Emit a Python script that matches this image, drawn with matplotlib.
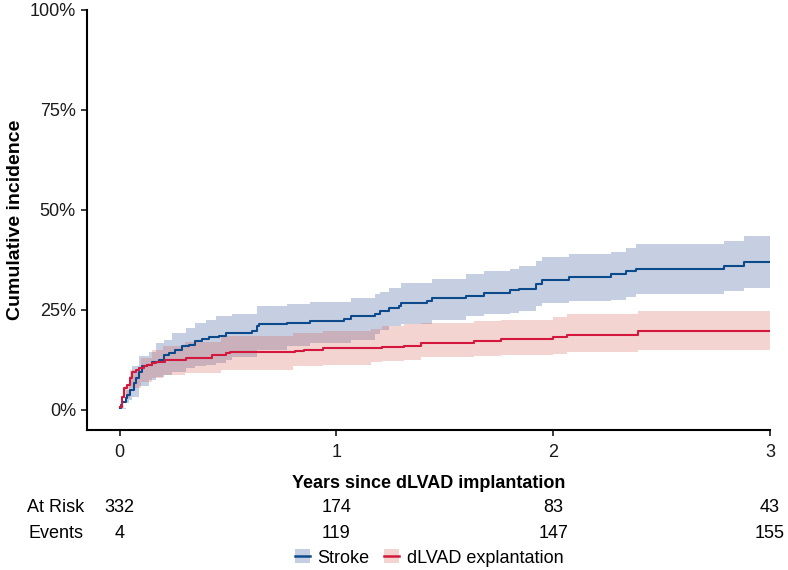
import matplotlib
matplotlib.use('Agg')
import matplotlib.pyplot as plt
import matplotlib.transforms as mtransforms
from matplotlib.patches import Patch
from matplotlib.lines import Line2D
import numpy as np

# --- data (years / percent) ---
stroke_t = [0, 0.005, 0.012, 0.028, 0.035, 0.05, 0.066, 0.074, 0.089, 0.105, 0.128, 0.15, 0.18, 0.205,
            0.228, 0.258, 0.289, 0.32, 0.35, 0.38, 0.412, 0.458, 0.489, 0.61, 0.635, 0.645, 0.774, 0.88,
            1.035, 1.066, 1.18, 1.20, 1.243, 1.29, 1.30, 1.42, 1.443, 1.597, 1.68, 1.80, 1.843, 1.92,
            1.95, 2.074, 2.266, 2.335, 2.381, 2.786, 2.881, 3.0]
stroke_ci = [0.4, 1.2, 2.1, 2.9, 3.8, 5.0, 6.7, 8.0, 9.6, 10.9, 11.3, 12.1, 12.6, 13.8,
             14.2, 15.1, 15.9, 16.3, 17.2, 17.8, 18.3, 18.6, 19.2, 19.8, 20.9, 21.4, 21.8, 22.2,
             22.8, 23.4, 23.9, 24.7, 25.5, 26.0, 26.8, 27.2, 28.1, 28.6, 29.3, 29.9, 30.3, 31.4,
             32.6, 33.3, 33.9, 34.8, 35.3, 36.1, 37.1, 37.1]

stroke_band_t = [0, 0.028, 0.043, 0.058, 0.089, 0.135, 0.166, 0.205, 0.243, 0.305, 0.35, 0.397, 0.443,
                 0.49, 0.52, 0.635, 0.774, 0.88, 1.066, 1.18, 1.20, 1.243, 1.30, 1.443, 1.597, 1.68,
                 1.80, 1.843, 1.92, 1.95, 2.074, 2.266, 2.335, 2.381, 2.786, 2.881, 3.0]
stroke_upper = [0.5, 5.0, 8.4, 10.9, 13.4, 14.6, 16.8, 17.6, 19.3, 20.5, 21.8, 22.6, 23.4,
                23.6, 23.9, 26.0, 26.4, 27.0, 28.1, 29.1, 29.5, 30.6, 31.7, 32.8, 33.9, 34.8,
                35.3, 36.0, 37.3, 38.3, 39.1, 39.6, 40.6, 41.5, 42.3, 43.5, 43.5]
stroke_lower = [0.3, 1.7, 2.5, 3.3, 5.9, 7.5, 8.2, 8.8, 9.6, 10.5, 10.9, 11.3, 11.7,
                12.4, 13.2, 15.0, 15.9, 16.7, 17.6, 19.0, 20.1, 20.9, 21.4, 22.6, 23.4, 23.9,
                24.3, 24.7, 26.0, 26.8, 27.2, 27.6, 28.3, 29.1, 29.7, 30.6, 30.6]

expl_t = [0, 0.012, 0.02, 0.035, 0.05, 0.058, 0.074, 0.089, 0.112, 0.128, 0.15, 0.166, 0.212, 0.305,
          0.428, 0.49, 0.51, 0.81, 0.85, 0.94, 1.21, 1.31, 1.39, 1.635, 1.758, 1.997, 2.066, 2.389, 3.0]
expl_ci = [0.8, 3.3, 5.4, 6.3, 8.0, 9.6, 10.0, 10.5, 10.9, 11.3, 11.7, 12.1, 12.6, 13.0,
           13.8, 14.2, 14.5, 14.8, 15.1, 15.5, 15.7, 16.1, 16.8, 17.2, 17.8, 18.3, 18.8, 19.7, 19.7]

expl_band_t = [0, 0.02, 0.05, 0.1, 0.15, 0.2, 0.3, 0.47, 0.8, 0.94, 1.16, 1.21, 1.31, 1.39, 1.635,
               1.758, 1.997, 2.066, 2.389, 3.0]
expl_upper = [1.0, 6.0, 10.0, 13.0, 15.0, 16.0, 17.0, 18.5, 19.3, 19.7, 20.2, 20.9, 21.4, 21.8, 22.2,
              22.6, 23.3, 23.9, 24.7, 24.7]
expl_lower = [0.5, 3.0, 5.5, 7.0, 8.0, 8.8, 9.3, 10.0, 10.9, 11.3, 12.1, 12.3, 12.6, 13.2, 13.4,
              13.8, 14.1, 14.4, 15.1, 15.1]

risk_years = [0, 1, 2, 3]
at_risk = [332, 174, 83, 43]
events = [4, 119, 147, 155]

blue = '#0d4a8c'
red = '#d4173c'
blue_band = '#1b438b'
red_band = '#d7574b'

plt.rcParams['font.family'] = ['Liberation Sans', 'DejaVu Sans']

fig = plt.figure(figsize=(7.88, 5.70), dpi=100)
ax = fig.add_axes([87 / 788, 140 / 570, 683 / 788, 420 / 570])

ax.fill_between(stroke_band_t, np.array(stroke_lower) / 100, np.array(stroke_upper) / 100,
                step='post', color=blue_band, alpha=0.25, linewidth=0)
ax.fill_between(expl_band_t, np.array(expl_lower) / 100, np.array(expl_upper) / 100,
                step='post', color=red_band, alpha=0.25, linewidth=0)
ax.step(stroke_t, np.array(stroke_ci) / 100, where='post', color=blue, linewidth=1.5)
ax.step(expl_t, np.array(expl_ci) / 100, where='post', color=red, linewidth=1.5)

ax.set_xlim(-0.15, 3)
ax.set_ylim(-0.05, 1.0)
ax.set_xticks(risk_years)
ax.set_yticks([0, 0.25, 0.5, 0.75, 1.0])
ax.set_yticklabels(['0%', '25%', '50%', '75%', '100%'])
ax.tick_params(axis='both', length=4.5, width=1.2, labelsize=13, colors='#1a1a1a')
ax.tick_params(axis='x', pad=5.5)
ax.tick_params(axis='y', pad=3.5)
ax.spines['top'].set_visible(False)
ax.spines['right'].set_visible(False)
ax.spines['left'].set_linewidth(1.5)
ax.spines['bottom'].set_linewidth(1.5)

ax.set_ylabel('Cumulative incidence', fontsize=14, fontweight='bold', labelpad=4)
ax.set_xlabel('Years since dLVAD implantation', fontsize=13, fontweight='bold', labelpad=10)

# risk table under the x axis
trans = mtransforms.blended_transform_factory(ax.transData, fig.transFigure)
row_y = [1 - 507 / 570, 1 - 533 / 570]
fig.text(84 / 788, row_y[0], 'At Risk', ha='right', va='center', fontsize=13)
fig.text(84 / 788, row_y[1], 'Events', ha='right', va='center', fontsize=13)
for yr, n_risk, n_ev in zip(risk_years, at_risk, events):
    ax.text(yr, row_y[0], str(n_risk), transform=trans, ha='center', va='center', fontsize=13)
    ax.text(yr, row_y[1], str(n_ev), transform=trans, ha='center', va='center', fontsize=13)

handles = [(Patch(facecolor=blue_band, alpha=0.25, edgecolor='none'), Line2D([], [], color=blue, lw=1.8)),
           (Patch(facecolor=red_band, alpha=0.25, edgecolor='none'), Line2D([], [], color=red, lw=1.8))]
fig.legend(handles, ['Stroke', 'dLVAD explantation'], loc='center',
           bbox_to_anchor=(429 / 788, 1 - 558 / 570), ncol=2, frameon=False,
           handlelength=0.85, handleheight=0.8, handletextpad=0.4, columnspacing=0.8,
           borderpad=0.1, prop={'size': 13})

fig.savefig('out.png', dpi=100)
